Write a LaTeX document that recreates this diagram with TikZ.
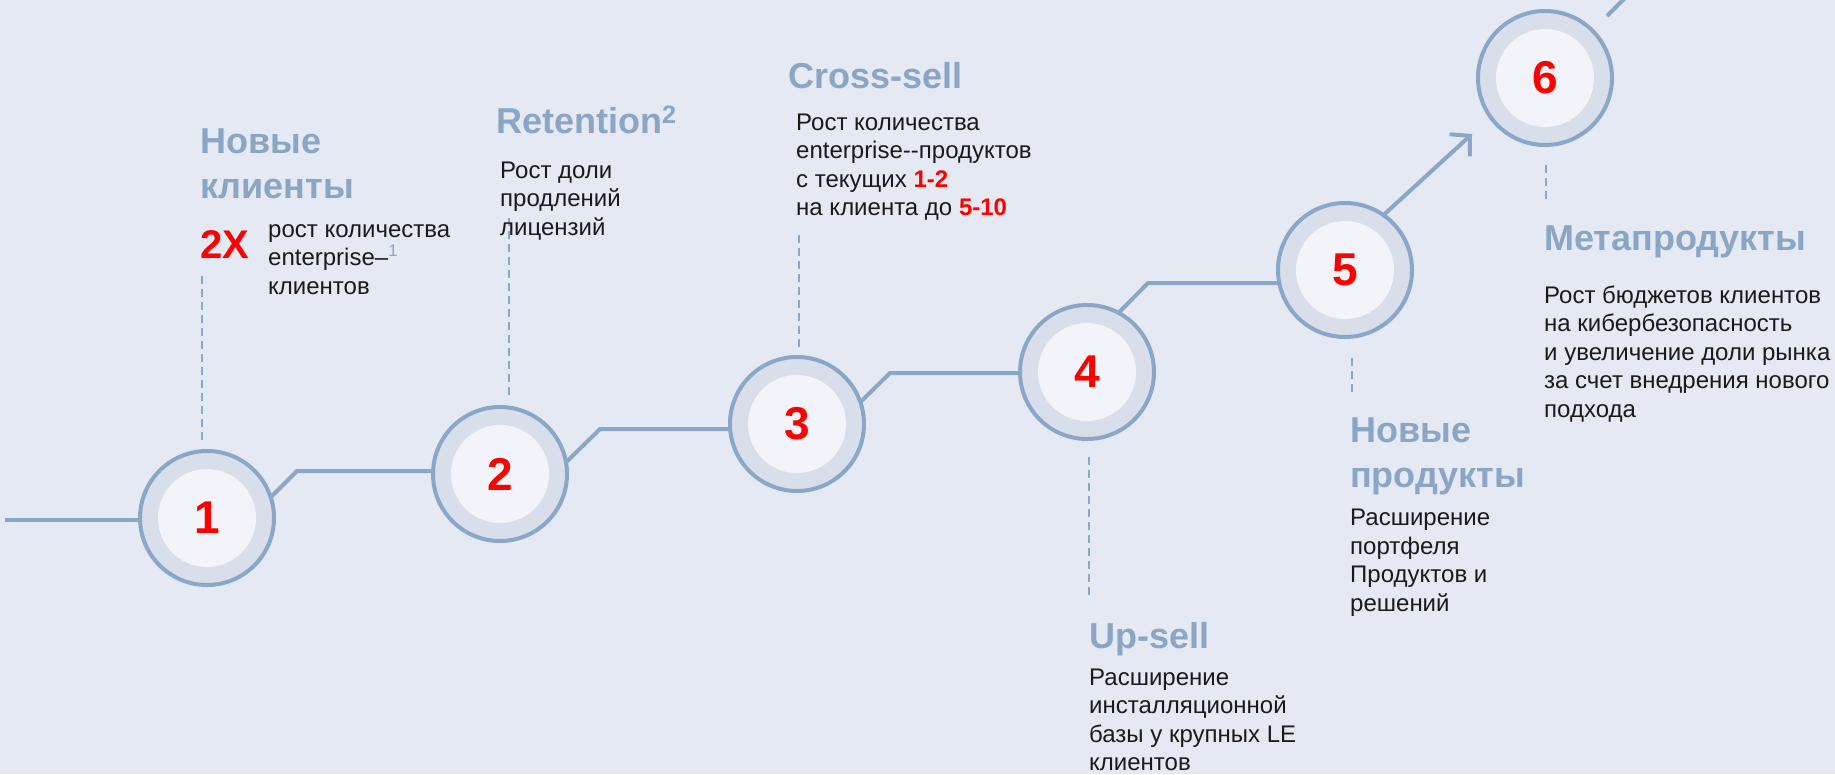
\documentclass[tikz,border=0pt]{standalone}
\usepackage{fontspec}
\setmainfont{Liberation Sans}
\usetikzlibrary{arrows.meta,backgrounds,calc}

\definecolor{bgcol}{RGB}{228,233,243}
\definecolor{linecol}{RGB}{139,166,198}
\definecolor{headcol}{RGB}{139,165,197}
\definecolor{ringcol}{RGB}{216,223,234}
\definecolor{corecol}{RGB}{242,244,249}
\definecolor{ink}{RGB}{26,26,26}
\definecolor{hot}{RGB}{255,0,0}

\newcommand{\redbit}[1]{\textcolor{hot}{\textbf{#1}}}

% multi-line nodes are placed by the baseline of their last line
\tikzset{
	stepring/.style={circle, draw=linecol, line width=4pt, fill=ringcol,
		minimum size=134pt, inner sep=0pt, outer sep=0pt,
		path picture={\fill[corecol] (path picture bounding box.center) circle (49pt);},
		font=\fontsize{46}{46}\selectfont\bfseries, text=hot},
	link/.style={draw=linecol, line width=4pt},
	guide/.style={draw=linecol, line width=1.5pt, dash pattern=on 8pt off 5pt},
	head/.style={anchor=base west, align=left, inner sep=0pt, text=headcol,
		font=\fontsize{36}{45}\selectfont\bfseries},
	body/.style={anchor=base west, align=left, inner sep=0pt, text=ink,
		font=\fontsize{24}{28.5}\selectfont},
}

\begin{document}
\begin{tikzpicture}[x=1pt,y=-1pt]
	\useasboundingbox (0,0) rectangle (1835,774);
	
	% steps
	\node[stepring] (c1) at (207,518) {1};
	\node[stepring] (c2) at (500,474) {2};
	\node[stepring] (c3) at (797,424) {3};
	\node[stepring] (c4) at (1087,372) {4};
	\node[stepring] (c5) at (1345,270) {5};
	\node[stepring] (c6) at (1545,78) {6};
	
	% bends of the line
	\coordinate (k0) at (5,520);
	\coordinate (k1) at (297,471);
	\coordinate (k2) at (600,429);
	\coordinate (k3) at (890,373);
	\coordinate (k4) at (1148,283);
	\coordinate (k5) at (1472,134);
	
	\begin{scope}[on background layer]
		\clip (0,0) rectangle (1835,774);
		\fill[bgcol] (0,0) rectangle (1835,774);
		\draw[link] (k0) -- (k0 -| c1);
		\draw[link] (c1.18) -- (k1) -- (k1 -| c2);
		\draw[link] (c2.10) -- (k2) -- (k2 -| c3);
		\draw[link] (c3.19) -- (k3) -- (k3 -| c4);
		\draw[link] (c4.62) -- (k4) -- (k4 -| c5);
		\draw[link,-{Straight Barb[length=14pt,width=30pt]}] (c5.55) -- (k5);
		\draw[link] (c6) ++(62,-62) -- ++(40,-40);
	\end{scope}
	
	% dashed guides
	\draw[guide] (c1.north) ++(-5,-11) -- ++(0,-165);
	\draw[guide] (c2.north) ++(9,-12) -- ++(0,-177);
	\draw[guide] (c3.north) ++(2,-10) -- ++(0,-112);
	\draw[guide] (c4.south) ++(2,18) -- ++(0,140);
	\draw[guide] (c5.south) ++(7,21) -- ++(0,34);
	\draw[guide] (c6.south) ++(1,20) -- ++(0,34);
	
	% texts
	\node[head] (h1) at (200,198) {Новые\\клиенты};
	\node[anchor=base west, inner sep=0pt, text=hot, font=\fontsize{40}{40}\selectfont\bfseries] (x1) at (200,258) {2X};
	\node[body] (b1) at (268,294) {рост количества\\enterprise–\textcolor{linecol}{\textsuperscript{1}}\\клиентов};
	
	\node[head] (h2) at (496,133) {Retention\textsuperscript{2}};
	\node[body] (b2) at (500,235) {Рост доли\\продлений\\лицензий};
	
	\node[head] (h3) at (788,88) {Cross-sell};
	\node[body] (b3) at (796,215.5) {Рост количества\\enterprise-{}-продуктов\\с текущих \redbit{1-2}\\на клиента до \redbit{5-10}};
	
	\node[head] (h4) at (1089,648) {Up-sell};
	\node[body] (b4) at (1089,770.5) {Расширение\\инсталляционной\\базы у крупных LE\\клиентов};
	
	\node[head] (h5) at (1350,487) {Новые\\продукты};
	\node[body] (b5) at (1350,611) {Расширение\\портфеля\\Продуктов и\\решений};
	
	\node[head] (h6) at (1544,250) {Метапродукты};
	\node[body] (b6) at (1544,417) {Рост бюджетов клиентов\\на кибербезопасность\\и увеличение доли рынка\\за счет внедрения нового\\подхода};
\end{tikzpicture}
\end{document}
